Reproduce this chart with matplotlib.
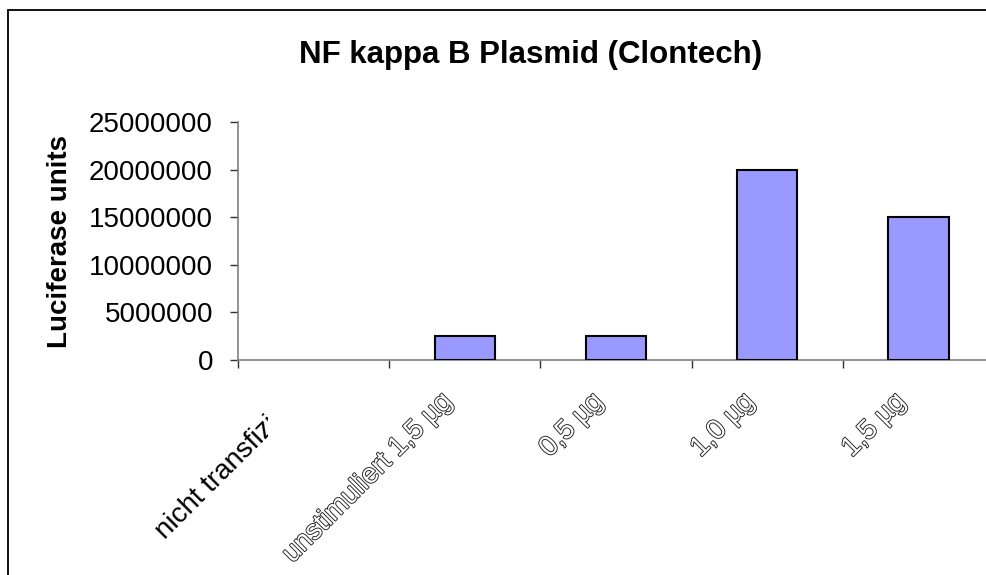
import matplotlib
matplotlib.use("Agg")
import matplotlib.pyplot as plt
import matplotlib.patheffects as pe
from matplotlib.patches import Rectangle
from matplotlib.ticker import FuncFormatter, FixedLocator
from matplotlib.transforms import blended_transform_factory, Bbox

categories = ["nicht transfiziert", "unstimuliert 1,5 µg", "0,5 µg", "1,0 µg", "1,5 µg"]
luciferase = [0, 2500000, 2500000, 20000000, 15000000]
y_ticks = [0, 5000000, 10000000, 15000000, 20000000, 25000000]

plt.rcParams["font.family"] = ["Liberation Sans", "DejaVu Sans"]

fig = plt.figure(figsize=(9.87, 5.75), dpi=100)
fig.patch.set_facecolor("white")

# chart frame (runs past the right and bottom edges)
frame = Rectangle((8 / 987, -0.2), 1.2, 0.2 + (1 - 9.5 / 575), transform=fig.transFigure,
                  fill=False, edgecolor="black", linewidth=1.3, zorder=0)
fig.add_artist(frame)

ax = fig.add_axes([238 / 987, 1 - 360 / 575, (994 - 238) / 987, (360 - 122) / 575])
x = list(range(len(categories)))
bars = ax.bar(x, luciferase, width=0.4, color="#9999FF", edgecolor="black",
              linewidth=1.5, zorder=3)
for b, v in zip(bars, luciferase):
    if v == 0:
        b.set_linewidth(0)

ax.set_xlim(-0.5, len(categories) - 0.5)
ax.set_ylim(0, 25000000)
ax.set_yticks(y_ticks)
ax.yaxis.set_major_formatter(FuncFormatter(lambda v, p: f"{int(v)}"))
ax.xaxis.set_major_locator(FixedLocator([i - 0.5 for i in range(len(categories))]))
ax.set_xticklabels([])

for s in ["top", "right"]:
    ax.spines[s].set_visible(False)
for s in ["left", "bottom"]:
    ax.spines[s].set_color("#808080")
    ax.spines[s].set_linewidth(1.2)
ax.tick_params(axis="y", direction="out", length=6, width=1, color="#303030",
               labelsize=20, pad=12)
ax.tick_params(axis="x", direction="out", length=6, width=1, color="#303030")

# rotated category labels
trans = blended_transform_factory(ax.transData, ax.transAxes)
for i, lab in enumerate(categories):
    if i == 0:
        t = ax.text(i - 0.17, -0.12, lab, transform=trans, rotation=45,
                    rotation_mode="anchor", ha="right", va="top", fontsize=20,
                    color="black", clip_on=False)
        t.set_clip_box(Bbox.from_extents(0, 0, 268, 575))
        t.set_clip_on(True)
    else:
        ax.text(i - 0.17, -0.12, lab, transform=trans, rotation=45,
                rotation_mode="anchor", ha="right", va="top", fontsize=20,
                color="white", clip_on=False,
                path_effects=[pe.withStroke(linewidth=1.3, foreground="#202020")])

fig.text(531 / 987, 1 - 55 / 575, "NF kappa B Plasmid (Clontech)", ha="center", va="center",
         fontsize=22.5, fontweight="bold")
fig.text(60 / 987, 1 - 241 / 575, "Luciferase units", ha="center", va="center",
         rotation=90, fontsize=20, fontweight="bold")

fig.savefig("out.png", dpi=100, facecolor="white")
